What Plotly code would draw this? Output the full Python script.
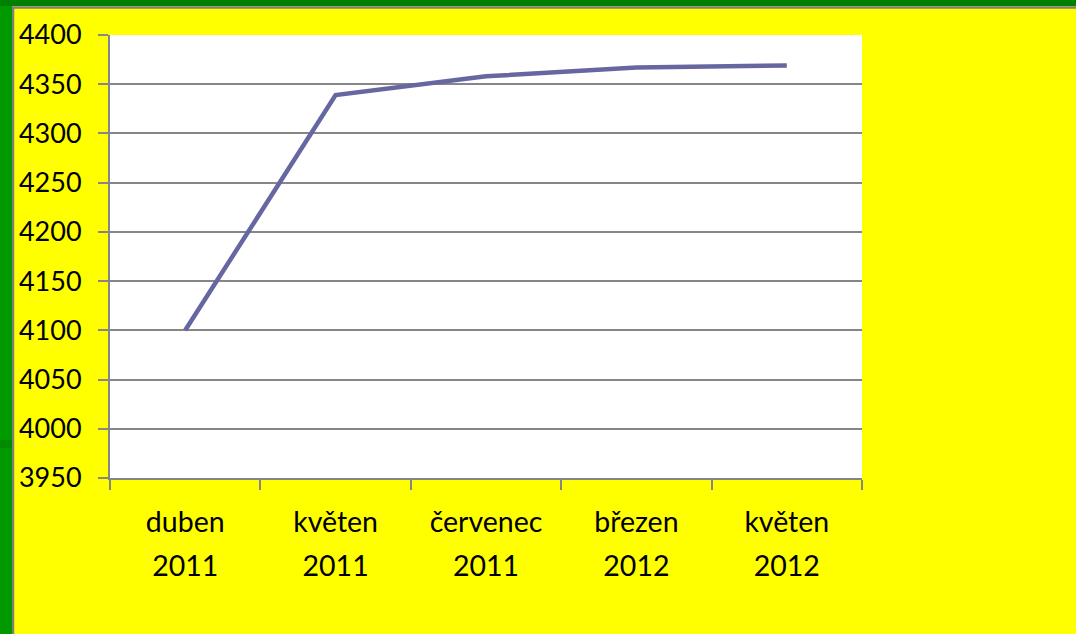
import plotly.graph_objects as go

# ---- data ----
months = ["duben", "květen", "červenec", "březen", "květen"]
years = ["2011", "2011", "2011", "2012", "2012"]
values = [4100, 4339, 4358, 4367, 4369]
y_ticks = [3950, 4000, 4050, 4100, 4150, 4200, 4250, 4300, 4350, 4400]

categories = [f"{m} {y}" for m, y in zip(months, years)]

W, H = 1076, 634
L, R, T, B = 110, 214, 35, 156
PW, PH = W - L - R, H - T - B


def px2x(px):
    return (px - L) / PW


def py2y(py):
    return (H - B - py) / PH


GRID = "#868686"

fig = go.Figure()
fig.add_trace(go.Scatter(
    x=categories, y=values, mode="lines",
    line=dict(color="#6667A0", width=4.5),
    hoverinfo="skip", showlegend=False,
))
# invisible companion trace for the second (year) label row
fig.add_trace(go.Scatter(
    x=categories, y=values, mode="lines", xaxis="x2",
    line=dict(color="rgba(0,0,0,0)", width=0), opacity=0,
    hoverinfo="skip", showlegend=False,
))

shapes = [
    dict(type="rect", xref="paper", yref="paper",
         x0=px2x(13), x1=px2x(1200), y0=py2y(7.5), y1=py2y(800),
         line=dict(color="#808080", width=2.5), fillcolor="rgba(0,0,0,0)", layer="above"),
    dict(type="rect", xref="paper", yref="paper",
         x0=px2x(-10), x1=px2x(1200), y0=py2y(6), y1=py2y(-10),
         line=dict(width=0), fillcolor="#008000", layer="above"),
    dict(type="rect", xref="paper", yref="paper",
         x0=px2x(-10), x1=px2x(12), y0=py2y(800), y1=py2y(6),
         line=dict(width=0), fillcolor="#009A00", layer="above"),
    dict(type="rect", xref="paper", yref="paper",
         x0=px2x(-10), x1=px2x(12), y0=py2y(448), y1=py2y(440),
         line=dict(width=0), fillcolor="#008A00", layer="above"),
]

XFONT = dict(family="Lato, Open Sans, sans-serif", size=28.5, color="#000000")

fig.update_layout(
    width=W, height=H, autosize=False,
    margin=dict(l=L, r=R, t=T, b=B, pad=0),
    paper_bgcolor="#FFFF00",
    plot_bgcolor="#FFFFFF",
    font=dict(family="Lato, Open Sans, sans-serif", size=27, color="#000000"),
    shapes=shapes,
    xaxis=dict(
        type="category",
        range=[-0.5, len(categories) - 0.5],
        tickmode="array", tickvals=categories, ticktext=months,
        tickfont=XFONT,
        tickson="boundaries",
        ticks="outside", ticklen=10, tickwidth=2, tickcolor=GRID,
        showgrid=False, zeroline=False,
        showline=True, linecolor=GRID, linewidth=2,
        ticklabelstandoff=18,
        tickangle=0,
    ),
    xaxis2=dict(
        type="category",
        overlaying="x", matches="x", side="bottom", anchor="y",
        range=[-0.5, len(categories) - 0.5],
        tickmode="array", tickvals=categories, ticktext=years,
        tickfont=XFONT,
        ticks="", showgrid=False, zeroline=False, showline=False,
        ticklabelstandoff=68,
        tickangle=0,
    ),
    yaxis=dict(
        range=[3950, 4400],
        tickmode="array", tickvals=y_ticks,
        ticks="outside", ticklen=10, tickwidth=2, tickcolor=GRID,
        showgrid=True, gridcolor=GRID, gridwidth=2,
        zeroline=False,
        showline=True, linecolor=GRID, linewidth=2,
        ticklabelstandoff=11,
    ),
)

fig.write_html("out.html")
